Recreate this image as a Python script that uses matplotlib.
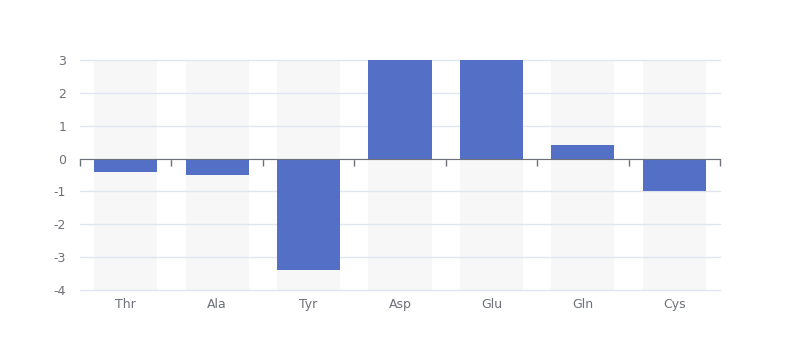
import matplotlib
matplotlib.use("Agg")
import matplotlib.pyplot as plt
import matplotlib.transforms as mtransforms

plt.rcParams["axes.unicode_minus"] = False

categories = ["Thr", "Ala", "Tyr", "Asp", "Glu", "Gln", "Cys"]
values = [-0.4, -0.5, -3.4, 3.0, 3.0, 0.4, -1.0]
y_min, y_max = -4, 3

bar_color = "#5470c6"
bg_color = "#f7f7f7"
grid_color = "#e0e6f1"
axis_color = "#6e7079"

fig = plt.figure(figsize=(8, 3.6), dpi=100)
ax = fig.add_axes([0.1, 0.1944, 0.8, 0.6389])

x = list(range(len(categories)))
bar_w = 0.69

# background bars over the full value range
ax.bar(x, [y_max - y_min] * len(x), bottom=y_min, width=bar_w, color=bg_color, zorder=0)
ax.bar(x, values, width=bar_w, color=bar_color, zorder=3)

ax.set_xlim(-0.5, len(x) - 0.5)
ax.set_ylim(y_min, y_max)

ax.set_yticks(range(y_min, y_max + 1))
ax.yaxis.grid(True, color=grid_color, linewidth=1, zorder=1)
for gl in ax.yaxis.get_gridlines():
    gl.set_clip_on(False)
ax.set_axisbelow(False)
ax.tick_params(axis="y", length=0, pad=10, labelsize=9, labelcolor=axis_color)

for s in ["top", "right", "left"]:
    ax.spines[s].set_visible(False)
ax.spines["bottom"].set_position(("data", 0))
ax.spines["bottom"].set_color(axis_color)
ax.spines["bottom"].set_zorder(4)

# ticks at the category boundaries, labels below the plot
ax.set_xticks([i - 0.5 for i in range(len(x) + 1)])
ax.set_xticklabels([])
ax.tick_params(axis="x", direction="out", length=5, color=axis_color, width=1)

trans = mtransforms.blended_transform_factory(ax.transData, ax.transAxes)
for i, name in enumerate(categories):
    ax.text(i, -0.035, name, transform=trans, ha="center", va="top",
            fontsize=9, color=axis_color)

fig.savefig("out.png", dpi=100)
